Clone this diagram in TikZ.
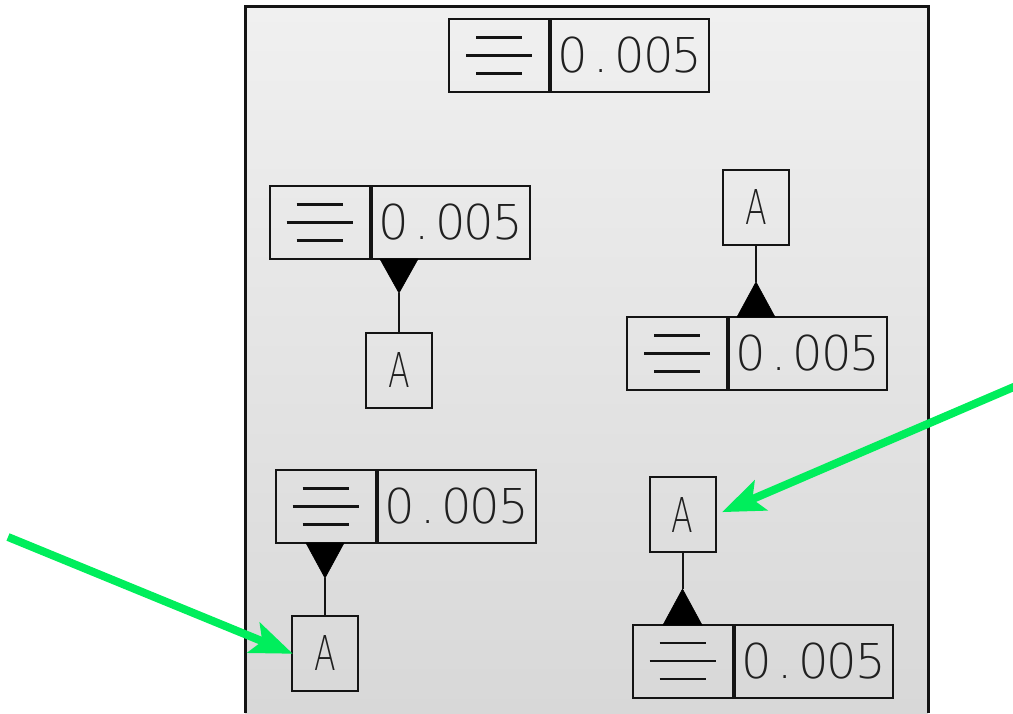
\documentclass[tikz,border=0pt]{standalone}
\usepackage{fontspec}
\usepackage{graphicx}
\newfontfamily\cadfont{DejaVu Sans ExtraLight}
\usetikzlibrary{arrows.meta,calc}
\definecolor{frameline}{HTML}{141414}
\definecolor{panelTop}{HTML}{F0F0F0}
\definecolor{panelBot}{HTML}{D8D8D8}
\definecolor{arrowgreen}{HTML}{00EE5C}
\definecolor{ink}{HTML}{202020}
\newcommand\pitch[1]{\makebox[28.5pt]{#1}}
\newcommand\tolval{\pitch{0}\pitch{.}\pitch{0}\pitch{0}\pitch{5}}
\newcommand\datumA{\scalebox{0.66}[1]{A}}
\newcommand\flatsym[1]{%
  \draw[flatline] ($(#1.center)+(-23,-18)$) -- ++(46,0);
  \draw[flatline] ($(#1.center)+(-33,0)$) -- ++(66,0);
  \draw[flatline] ($(#1.center)+(-23,18)$) -- ++(46,0);}
\begin{document}
\begin{tikzpicture}[x=1pt,y=-1pt,
  cell/.style={draw=frameline, line width=2pt, inner sep=0pt, minimum height=73pt,
    text=ink, font=\cadfont\fontsize{48}{48}\selectfont},
  symcell/.style={cell, minimum width=100pt},
  valcell/.style={cell, minimum width=158pt},
  datum/.style={cell, minimum width=66pt, minimum height=75pt},
  flatline/.style={line width=2.6pt, draw=frameline},
  tri/.style={fill=black, draw=black, line width=0.6pt, line join=miter},
  stem/.style={line width=2pt, draw=frameline},
  greenarrow/.style={line width=8pt, draw=arrowgreen, fill=arrowgreen,
    -{Stealth[length=42pt,width=32pt,inset=9pt]}}]
\useasboundingbox (0,0) rectangle (1013,713);
% panel
\shade[top color=panelTop, bottom color=panelBot] (245,6.5) rectangle (928,713);
\draw[line width=3pt, draw=frameline] (245,713) -- (245,6.5) -- (928,6.5) -- (928,713);

% FCF 1 (top)
\node[symcell] (s1) at (499,55.5) {};
\node[valcell, anchor=west] (v1) at (s1.east) {\tolval};
\flatsym{s1}

% FCF 2 (middle left) with datum below
\node[symcell] (s2) at (319.5,222.5) {};
\node[valcell, anchor=west] (v2) at (s2.east) {\tolval};
\flatsym{s2}
\node[datum] (a2) at (399,370) {\datumA};
\coordinate (t2) at (399,293);
\draw[tri] (380,259) -- (418,259) -- (t2) -- cycle;
\draw[stem] (t2) -- (a2.north);

% FCF 3 (middle right) with datum above
\node[datum] (a3) at (756,207) {\datumA};
\node[symcell] (s3) at (677,353.5) {};
\node[valcell, anchor=west] (v3) at (s3.east) {\tolval};
\flatsym{s3}
\coordinate (t3) at (756,282);
\draw[tri] (737,317) -- (775,317) -- (t3) -- cycle;
\draw[stem] (t3) -- (a3.south);

% FCF 4 (bottom left) with datum below
\node[symcell] (s4) at (325.5,506.5) {};
\node[valcell, anchor=west] (v4) at (s4.east) {\tolval};
\flatsym{s4}
\node[datum] (a4) at (325,653) {\datumA};
\coordinate (t4) at (325,578);
\draw[tri] (306,543) -- (344,543) -- (t4) -- cycle;
\draw[stem] (t4) -- (a4.north);

% FCF 5 (bottom right) with datum above
\node[datum] (a5) at (682.5,514.5) {\datumA};
\node[symcell] (s5) at (682.5,661) {};
\node[valcell, anchor=west] (v5) at (s5.east) {\tolval};
\flatsym{s5}
\coordinate (t5) at (682.5,589);
\draw[tri] (663,625) -- (702,625) -- (t5) -- cycle;
\draw[stem] (t5) -- (a5.south);

% green pointer arrows
\coordinate (g1) at (8,537);
\coordinate (g2) at (1016,386);
\draw[greenarrow, shorten >=-2pt] (g1) -- (a4.west);
\draw[greenarrow, shorten >=6pt] (g2) -- (a5.east);
\end{tikzpicture}
\end{document}
